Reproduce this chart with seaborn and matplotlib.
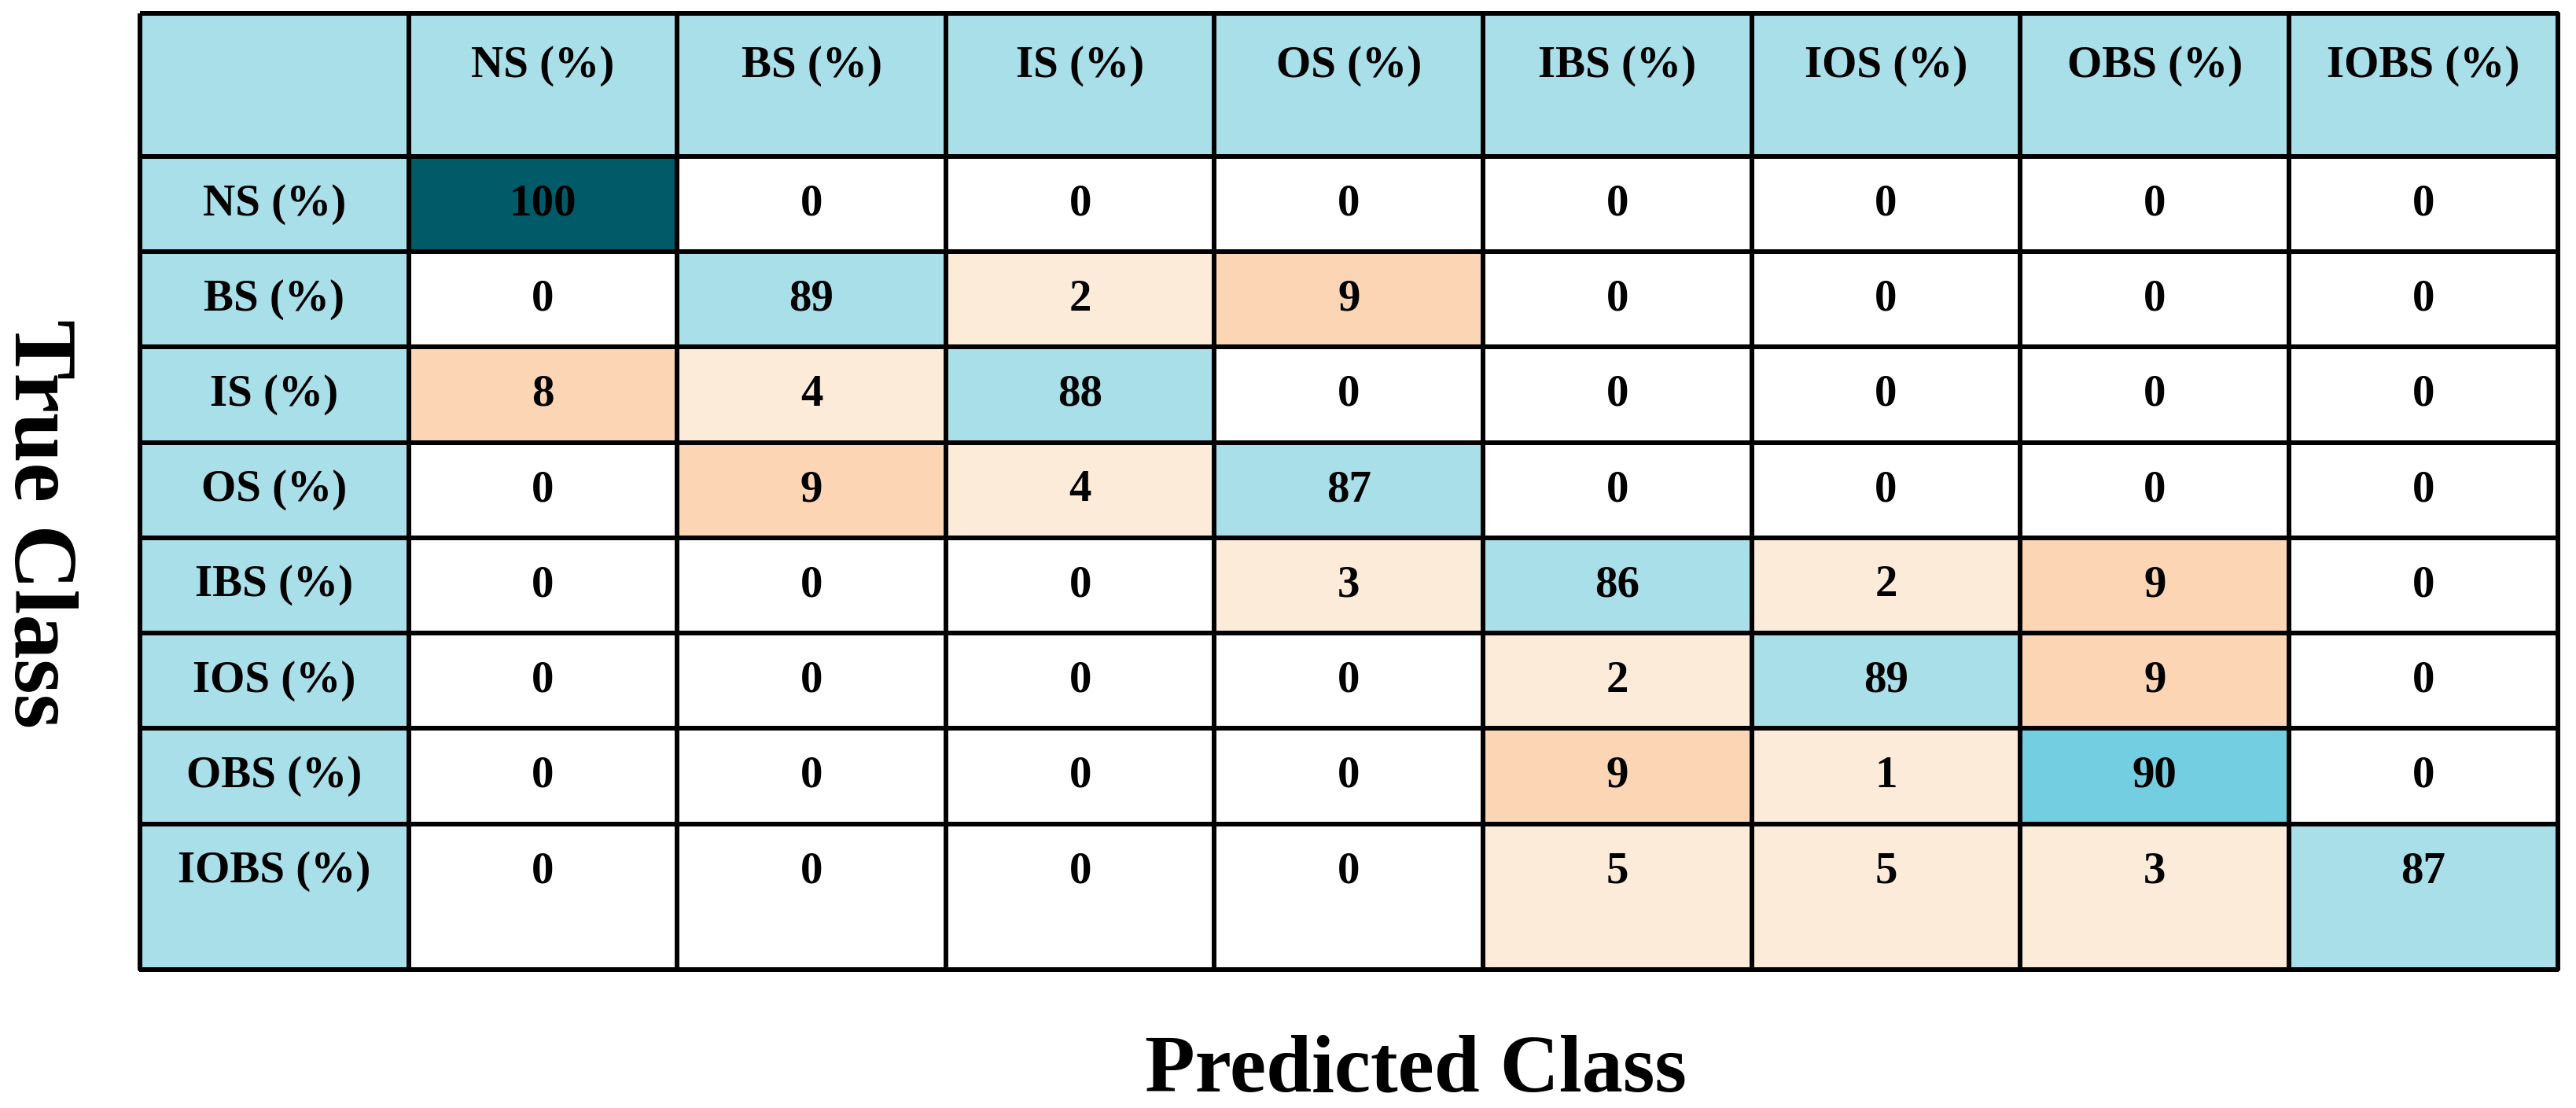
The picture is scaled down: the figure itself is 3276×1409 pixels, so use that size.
import matplotlib
matplotlib.use("Agg")
import matplotlib.pyplot as plt
import numpy as np
import seaborn as sns
from matplotlib.colors import ListedColormap

# DATA
classes = ["NS", "BS", "IS", "OS", "IBS", "IOS", "OBS", "IOBS"]
confusion_pct = np.array([
    [100, 0, 0, 0, 0, 0, 0, 0],
    [0, 89, 2, 9, 0, 0, 0, 0],
    [8, 4, 88, 0, 0, 0, 0, 0],
    [0, 9, 4, 87, 0, 0, 0, 0],
    [0, 0, 0, 3, 86, 2, 9, 0],
    [0, 0, 0, 0, 2, 89, 9, 0],
    [0, 0, 0, 0, 9, 1, 90, 0],
    [0, 0, 0, 0, 5, 5, 3, 87],
])
x_title = "Predicted Class"
y_title = "True Class"

# shade bands: 0 | 1-5 | 6-9 | 10-89 | 90-99 | 100
shade_bins = [1, 6, 10, 90, 100]
shade_colors = ["#FFFFFF", "#FDEBDA", "#FCD5B4", "#A8DFE9", "#72CEE0", "#005A68"]
HEADER_SHADE = 3

sns.set_style("white")
plt.rcParams["font.family"] = ["Liberation Serif", "DejaVu Serif"]
plt.rcParams["text.color"] = "black"

n = len(classes)
labels = [f"{c} (%)" for c in classes]

# full table: header row + label column around the matrix
shade = np.full((n + 1, n + 1), HEADER_SHADE)
shade[1:, 1:] = np.digitize(confusion_pct, shade_bins)
annot = np.empty((n + 1, n + 1), dtype=object)
annot[0, 0] = ""
annot[0, 1:] = labels
annot[1:, 0] = labels
annot[1:, 1:] = confusion_pct.astype(str)

# uneven row heights: taller header and last row, text sits near top
header_h, last_h = 1.5, 1.53
data_knots = [0, 0.5, 1, n, n + 0.5, n + 1]
trans_knots = [0, 0.55, header_h, header_h + n - 1,
               header_h + n - 0.5, header_h + n - 1 + last_h]


def fwd(y):
    return np.interp(y, data_knots, trans_knots)


def inv(y):
    return np.interp(y, trans_knots, data_knots)


fig = plt.figure(figsize=(32.76, 14.09), dpi=100)
ax = fig.add_axes([0.0543, 0.1249, 0.9386, 0.863])

sns.heatmap(
    shade,
    ax=ax,
    cmap=ListedColormap(shade_colors),
    vmin=-0.5,
    vmax=len(shade_colors) - 0.5,
    annot=annot,
    fmt="",
    cbar=False,
    linewidths=3.2,
    linecolor="black",
    xticklabels=False,
    yticklabels=False,
    annot_kws={"fontsize": 41, "fontweight": "bold", "color": "black"},
)
ax.set_yscale("function", functions=(fwd, inv))
ax.set_xlim(0, n + 1)
ax.set_ylim(n + 1, 0)
ax.set_xticks([])
ax.set_yticks([])
ax.set_xlabel("")
ax.set_ylabel("")
ax.collections[0].set_clip_on(False)

fig.text(0.5497, 0.0156, x_title, ha="center", va="baseline",
         fontsize=75, fontweight="bold", color="black")
fig.text(0.0058, 0.527, y_title, rotation=-90, rotation_mode="anchor",
         ha="center", va="baseline", fontsize=82, fontweight="bold",
         color="black")

fig.savefig("out.png", dpi=100)
plt.close(fig)
